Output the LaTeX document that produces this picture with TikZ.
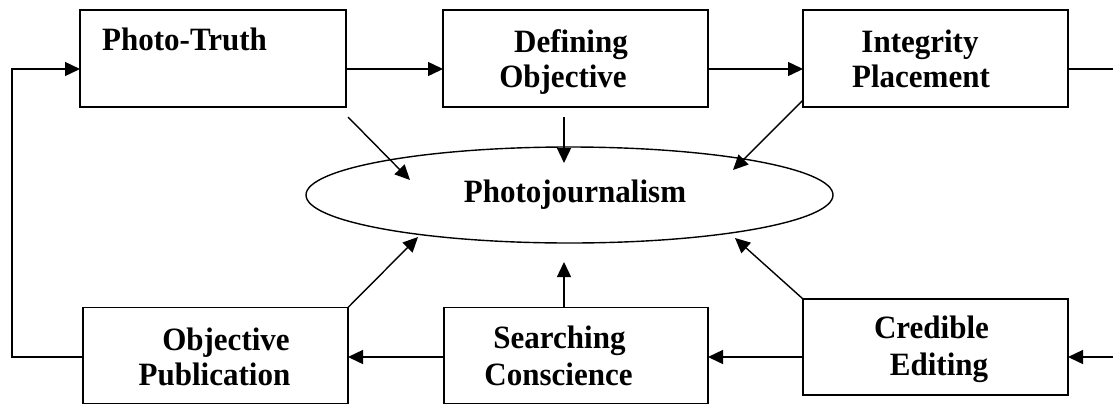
\documentclass[tikz,border=0pt]{standalone}
\usepackage{fontspec}
\setmainfont{Liberation Serif}
\usetikzlibrary{arrows.meta,calc,shapes.geometric}
\begin{document}
\begin{tikzpicture}[x=1pt,y=-1pt,
  box/.style={draw,line width=1.8pt,inner sep=0pt,outer sep=0pt,minimum height=96pt},
  lbl/.style={font=\fontsize{31}{36}\selectfont\bfseries,inner sep=0pt,anchor=base,yscale=1.05},
  conn/.style={line width=1.4pt,-{Triangle[length=15pt,width=14pt]}},
  fb/.style={line width=2.5pt}]
\useasboundingbox (0,0) rectangle (1113,405);

% boxes
\node[box,minimum width=266pt,minimum height=97pt] (pt) at (213,58.5) {};
\node[box,minimum width=265pt,minimum height=97pt] (do) at (575.5,58.5) {};
\node[box,minimum width=265pt,minimum height=97pt] (ip) at (935.5,58.5) {};
\node[box,minimum width=265pt] (op) at (215.5,355.5) {};
\node[box,minimum width=264pt] (sc) at (576,355.5) {};
\node[box,minimum width=265pt] (ce) at (935.5,347) {};
\node[draw,ellipse,line width=1.4pt,minimum width=527pt,minimum height=96pt,inner sep=0pt] (pj) at (569.5,195) {};

% labels
\node[lbl,anchor=base west] (tpt) at (102,50) {Photo-Truth};
\node[lbl] (tdo1) at (571,52) {Defining};
\node[lbl] (tdo2) at (563,87) {Objective};
\node[lbl] (tip1) at (920,52) {Integrity};
\node[lbl] (tip2) at (921,87) {Placement};
\node[lbl] (tpj) at (575,202) {Photojournalism};
\node[lbl] (top1) at (226,350) {Objective};
\node[lbl] (top2) at (214.5,385) {Publication};
\node[lbl] (tsc1) at (559.5,348) {Searching};
\node[lbl] (tsc2) at (558.5,385) {Conscience};
\node[lbl] (tce1) at (931.5,338) {Credible};
\node[lbl] (tce2) at (939,375) {Editing};

% helper coordinates
\coordinate (rowtop) at (0,69);
\coordinate (rowbot) at (0,357);
\coordinate (rightout) at (1113,69);
\coordinate (rightin) at (1113,357);
\coordinate (fbbot) at (12,357);
\coordinate (fbtop) at (12,69);
\coordinate (t1) at (410,180);
\coordinate (t2) at (564,163);
\coordinate (t3) at (733,170);
\coordinate (t4) at (418,237);
\coordinate (t5) at (564,262);
\coordinate (t6) at (735,238);

% top row
\draw[conn] (pt.east |- rowtop) -- (do.west |- rowtop);
\draw[conn] (do.east |- rowtop) -- (ip.west |- rowtop);
\draw[fb] (ip.east |- rowtop) -- (rightout);

% bottom row
\draw[conn] (rightin) -- (ce.east |- rowbot);
\draw[conn] (ce.west |- rowbot) -- (sc.east |- rowbot);
\draw[conn] (sc.west |- rowbot) -- (op.east |- rowbot);
\draw[fb,line cap=rect] (op.west |- rowbot) -- (fbbot) -- (fbtop);
\draw[conn] (fbtop) -- (pt.west |- rowtop);

% to ellipse
\draw[conn] ($(pt.south east)+(2,10)$) -- (t1);
\draw[conn] ($(do.south)+(-11.5,10)$) -- (t2);
\draw[conn] ($(ip.south west)+(0,-7)$) -- (t3);
\draw[conn] (op.north east) -- (t4);
\draw[conn] ($(sc.north)+(-12,0)$) -- (t5);
\draw[conn] (ce.north west) -- (t6);
\end{tikzpicture}
\end{document}
